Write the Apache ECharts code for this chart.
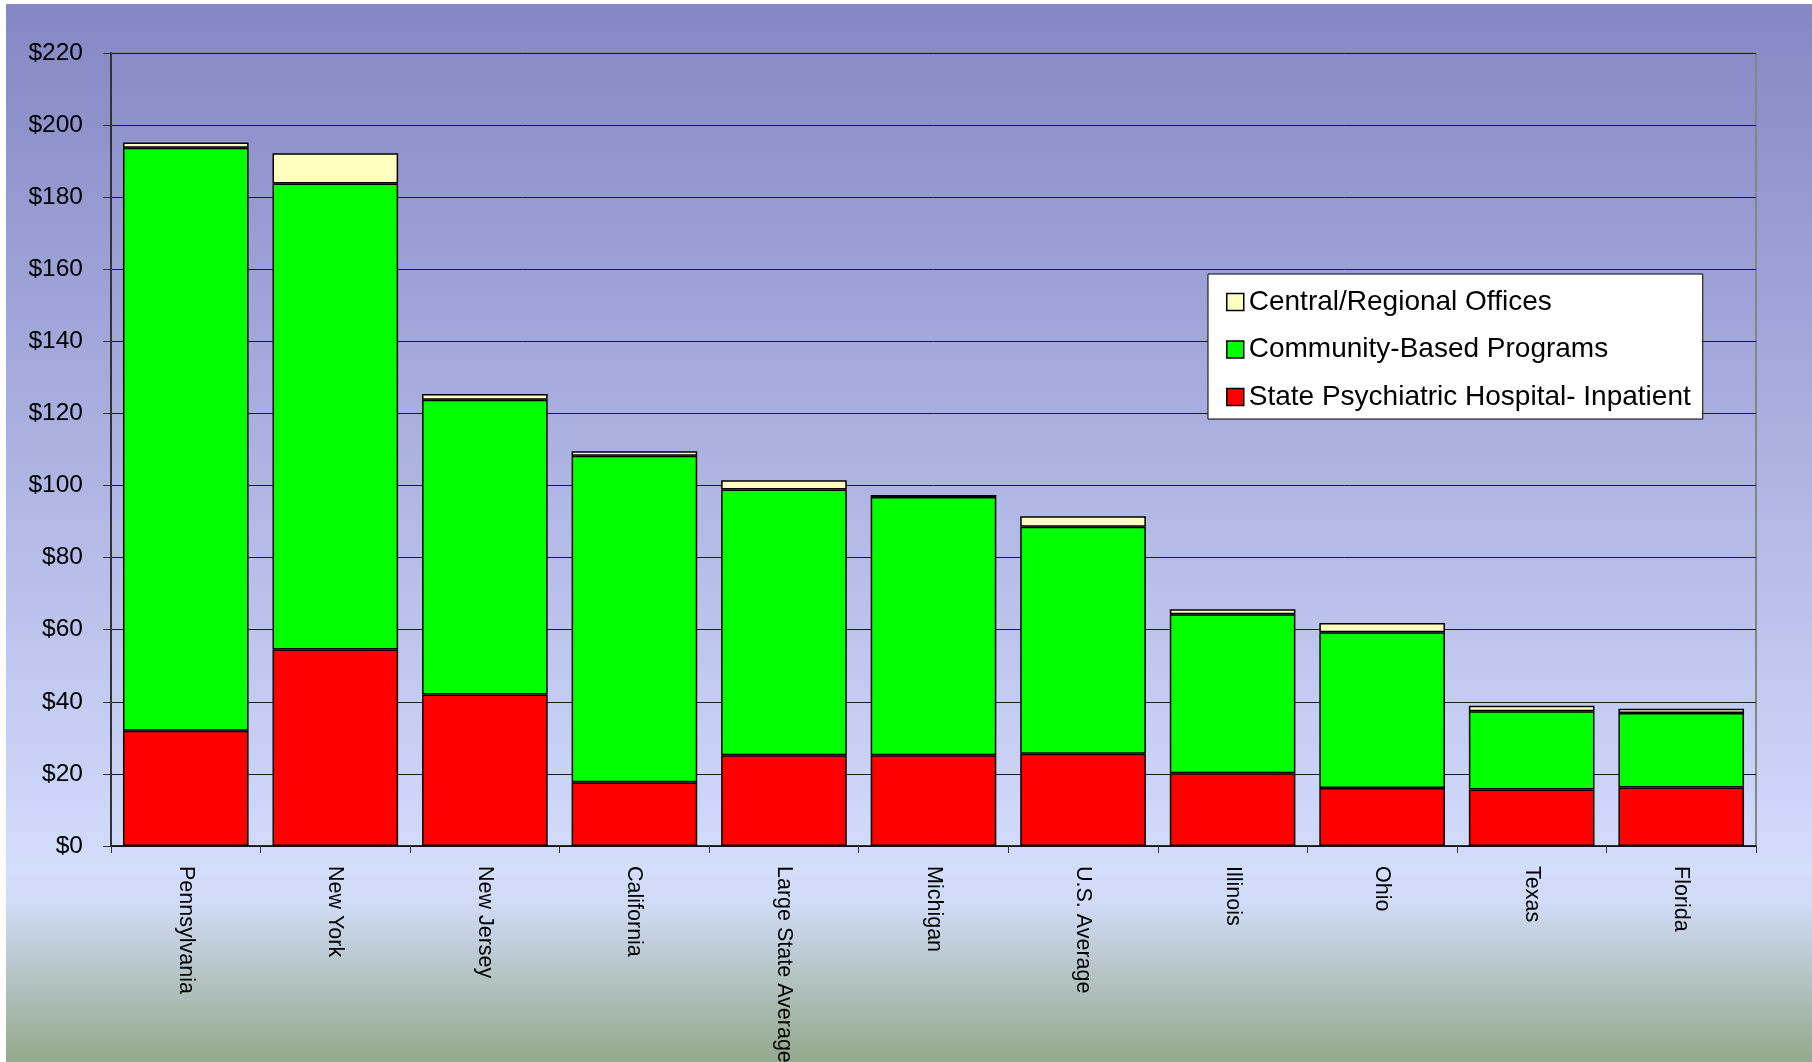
<!DOCTYPE html>
<html>
<head>
<meta charset="utf-8">
<script src="https://cdn.jsdelivr.net/npm/echarts@6/dist/echarts.min.js"></script>
<style>
html,body{margin:0;padding:0;background:#fff;}
#chart{width:1812px;height:1062px;}
</style>
</head>
<body>
<div id="chart"></div>
<script>
const categories = ["Pennsylvania","New York","New Jersey","California","Large State Average","Michigan","U.S. Average","Illinois","Ohio","Texas","Florida"];
const hospital = [32.0, 54.5, 42.0, 17.7, 25.2, 25.2, 25.6, 20.2, 16.1, 15.7, 16.2];
const community = [161.7, 129.3, 81.8, 90.6, 73.7, 71.6, 63.0, 44.1, 43.2, 21.7, 20.7];
const central = [1.5, 8.4, 1.6, 1.2, 2.6, 0.6, 2.9, 1.4, 2.6, 1.5, 1.2];
const seriesNames = ["Central/Regional Offices","Community-Based Programs","State Psychiatric Hospital- Inpatient"];
const yTicks = {min: 0, max: 220, interval: 20};

const chart = echarts.init(document.getElementById('chart'), null, {renderer: 'canvas'});
const font = 'Liberation Sans, Arial, sans-serif';
const barBorder = {borderColor: '#000', borderWidth: 1.5};

chart.setOption({
  animation: false,
  backgroundColor: '#fff',
  graphic: [{
    type: 'rect', z: -10, silent: true,
    shape: {x: 6, y: 4, width: 1806, height: 1058},
    style: {
      fill: {
        type: 'linear', x: 0, y: 0, x2: 0, y2: 1,
        colorStops: [
          {offset: 0, color: '#8487C4'},
          {offset: 0.45, color: '#AEB5E3'},
          {offset: 0.82, color: '#D3DDFC'},
          {offset: 0.85, color: '#D0DBF6'},
          {offset: 1, color: '#93A98B'}
        ]
      }
    }
  }],
  grid: {
    left: 111, right: 56, top: 53, bottom: 216,
    containLabel: false, outerBoundsMode: 'none',
    show: true, borderColor: '#858585', borderWidth: 2, backgroundColor: 'transparent'
  },
  legend: {
    orient: 'vertical',
    left: 1208, top: 274,
    backgroundColor: '#fff',
    borderColor: '#000', borderWidth: 1,
    padding: [14, 12, 8, 18],
    itemWidth: 17, itemHeight: 17, itemGap: 19.5, itemTextGap: 10,
    icon: 'rect',
    data: seriesNames,
    textStyle: {fontFamily: font, fontSize: 28, color: '#000', lineHeight: 26},
    itemStyle: {borderColor: '#000', borderWidth: 1.5}
  },
  xAxis: {
    type: 'category',
    data: categories,
    axisLine: {lineStyle: {color: '#111', width: 1.5}},
    axisTick: {show: true, length: 7, lineStyle: {color: '#333', width: 1}},
    axisLabel: {rotate: -90, margin: 20, fontFamily: font, fontSize: 21.5, color: '#000', interval: 0}
  },
  yAxis: {
    type: 'value',
    min: yTicks.min, max: yTicks.max, interval: yTicks.interval,
    axisLine: {show: true, lineStyle: {color: '#333', width: 2}},
    axisTick: {show: true, length: 8, lineStyle: {color: '#333', width: 1}},
    axisLabel: {formatter: '${value}', margin: 28, fontFamily: font, fontSize: 24.5, color: '#000'},
    splitLine: {show: true, lineStyle: {color: '#1c1c1c', width: 1}}
  },
  series: [
    {name: seriesNames[2], type: 'bar', stack: 'total', data: hospital, barCategoryGap: '16%',
     itemStyle: Object.assign({color: '#FF0000'}, barBorder)},
    {name: seriesNames[1], type: 'bar', stack: 'total', data: community,
     itemStyle: Object.assign({color: '#00FF00'}, barBorder)},
    {name: seriesNames[0], type: 'bar', stack: 'total', data: central,
     itemStyle: Object.assign({color: '#FFFFC0'}, barBorder)}
  ]
});
</script>
</body>
</html>
